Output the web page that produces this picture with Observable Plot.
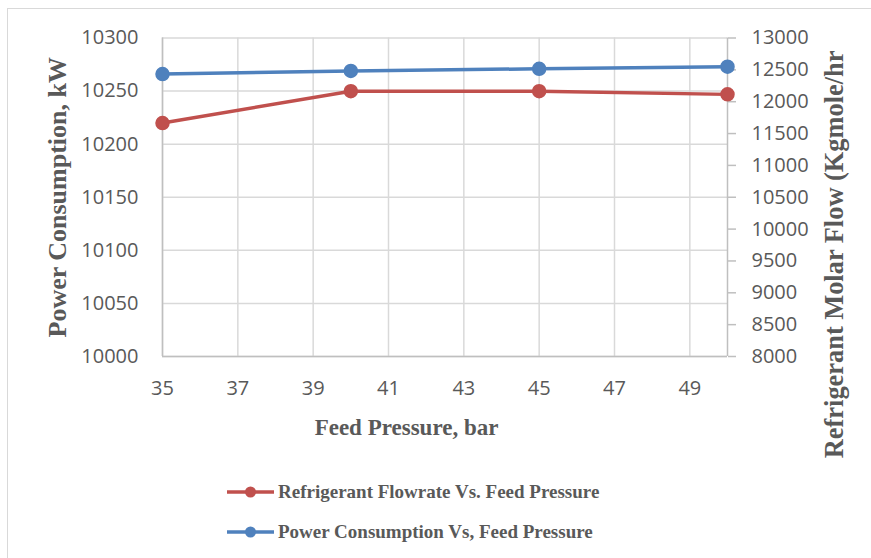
<!DOCTYPE html>
<html>
<head>
<meta charset="utf-8">
<script src="https://cdn.jsdelivr.net/npm/d3@7"></script>
<script src="https://cdn.jsdelivr.net/npm/@observablehq/plot@0.6"></script>
<style>
  html, body { margin: 0; padding: 0; background: #fff; overflow: hidden; width: 871px; height: 558px; }
  #wrap { position: relative; width: 871px; height: 558px; }
  #chart { position: absolute; left: 0; top: 0; }
  #frame { position: absolute; left: 7px; top: 8px; width: 900px; height: 600px; border: 1.5px solid #d9d9d9; box-sizing: border-box; pointer-events: none; }
  .leg { position: absolute; left: 227px; height: 24px; display: flex; align-items: center;
         font-family: "Liberation Serif", "Times New Roman", serif; font-weight: bold; font-size: 19px; color: #595959; white-space: nowrap; }
  .leg svg { margin-right: 4px; }
</style>
</head>
<body>
<div id="wrap">
  <div id="chart"></div>
  <div id="legend"></div>
  <div id="frame"></div>
</div>
<script>
// ---- data ----
const feedPressure = [35, 40, 45, 50];                       // bar
const powerConsumption = [10266, 10269, 10271, 10273];       // kW (left axis)
const refrigerantFlow = [11665, 12165, 12165, 12115];        // Kgmole/hr (right axis)
const xTicks = [35, 37, 39, 41, 43, 45, 47, 49];
const leftTicks = [10000, 10050, 10100, 10150, 10200, 10250, 10300];
const rightTicks = [8000, 8500, 9000, 9500, 10000, 10500, 11000, 11500, 12000, 12500, 13000];
const seriesNames = ["Refrigerant Flowrate Vs. Feed Pressure", "Power Consumption Vs, Feed Pressure"];
const seriesColors = ["#c0504d", "#4f81bd"];

// map the right axis (8000..13000) onto the left axis (10000..10300)
const leftDomain = [10000, 10300];
const rightDomain = [8000, 13000];
const toLeft = v => leftDomain[0] + (v - rightDomain[0]) * (leftDomain[1] - leftDomain[0]) / (rightDomain[1] - rightDomain[0]);
const fromLeft = v => rightDomain[0] + (v - leftDomain[0]) * (rightDomain[1] - rightDomain[0]) / (leftDomain[1] - leftDomain[0]);

const redData = feedPressure.map((x, i) => ({x, y: toLeft(refrigerantFlow[i])}));
const blueData = feedPressure.map((x, i) => ({x, y: powerConsumption[i]}));

const grid = "#d9d9d9";
const axisCol = "#bfbfbf";
const textCol = "#595959";
const serif = "Liberation Serif, Times New Roman, serif";

const chart = Plot.plot({
  width: 871,
  height: 558,
  marginTop: 37.5,
  marginLeft: 162,
  marginRight: 144,
  marginBottom: 202,
  style: { fontFamily: "Open Sans, sans-serif", fontSize: "20px", color: textCol, background: "transparent", overflow: "visible" },
  x: { domain: [35, 50] },
  y: { domain: leftDomain },
  marks: [
    Plot.gridX(xTicks, { stroke: grid, strokeOpacity: 1, strokeWidth: 1.5 }),
    Plot.gridY(leftTicks, { stroke: grid, strokeOpacity: 1, strokeWidth: 1.5 }),
    Plot.ruleX([50], { stroke: axisCol, strokeWidth: 1.5 }),
    Plot.ruleX([35], { stroke: axisCol, strokeWidth: 1.5 }),
    Plot.ruleY([10000], { stroke: axisCol, strokeWidth: 1.5 }),
    Plot.axisX(xTicks, { tickSize: 0, tickPadding: 24, label: null, fontSize: 20, fill: textCol, tickFormat: d => String(d) }),
    Plot.axisY(leftTicks, { anchor: "left", tickSize: 0, tickPadding: 24, label: null, fontSize: 20, fill: textCol, tickFormat: d => String(d) }),
    Plot.axisY(rightTicks.map(toLeft), { anchor: "right", tickSize: 8, tickPadding: 16, stroke: axisCol, strokeWidth: 1.5, label: null, fontSize: 20, fill: textCol, tickFormat: d => String(Math.round(fromLeft(d))) }),
    Plot.line(redData, { x: "x", y: "y", stroke: seriesColors[0], strokeWidth: 3.5 }),
    Plot.dot(redData, { x: "x", y: "y", r: 6.5, fill: seriesColors[0], stroke: seriesColors[0] }),
    Plot.line(blueData, { x: "x", y: "y", stroke: seriesColors[1], strokeWidth: 3.5 }),
    Plot.dot(blueData, { x: "x", y: "y", r: 6.5, fill: seriesColors[1], stroke: seriesColors[1] }),
    Plot.text(["Power Consumption, kW"], { frameAnchor: "left", rotate: -90, textAnchor: "middle", lineAnchor: "middle", dx: -105, fontSize: 26, fontWeight: "bold", fontFamily: serif, fill: textCol }),
    Plot.text(["Feed Pressure, bar"], { frameAnchor: "bottom", textAnchor: "middle", lineAnchor: "middle", dx: -38.5, dy: 70.7, fontSize: 23, fontWeight: "bold", fontFamily: serif, fill: textCol }),
    Plot.text(["Refrigerant Molar Flow (Kgmole/hr"], { frameAnchor: "top-right", rotate: -90, textAnchor: "end", lineAnchor: "middle", dx: 107, dy: 12.5, fontSize: 26.4, fontWeight: "bold", fontFamily: serif, fill: textCol })
  ]
});
document.getElementById("chart").appendChild(chart);

// legend
const legend = document.getElementById("legend");
const rowsY = [492, 532];
seriesNames.forEach((name, i) => {
  const row = document.createElement("div");
  row.className = "leg";
  row.style.top = (rowsY[i] - 12) + "px";
  row.innerHTML = `<svg width="47" height="14"><line x1="0" y1="7" x2="47" y2="7" stroke="${seriesColors[i]}" stroke-width="3.5"/><circle cx="23.5" cy="7" r="5.5" fill="${seriesColors[i]}"/></svg><span>${name}</span>`;
  legend.appendChild(row);
});
</script>
</body>
</html>
